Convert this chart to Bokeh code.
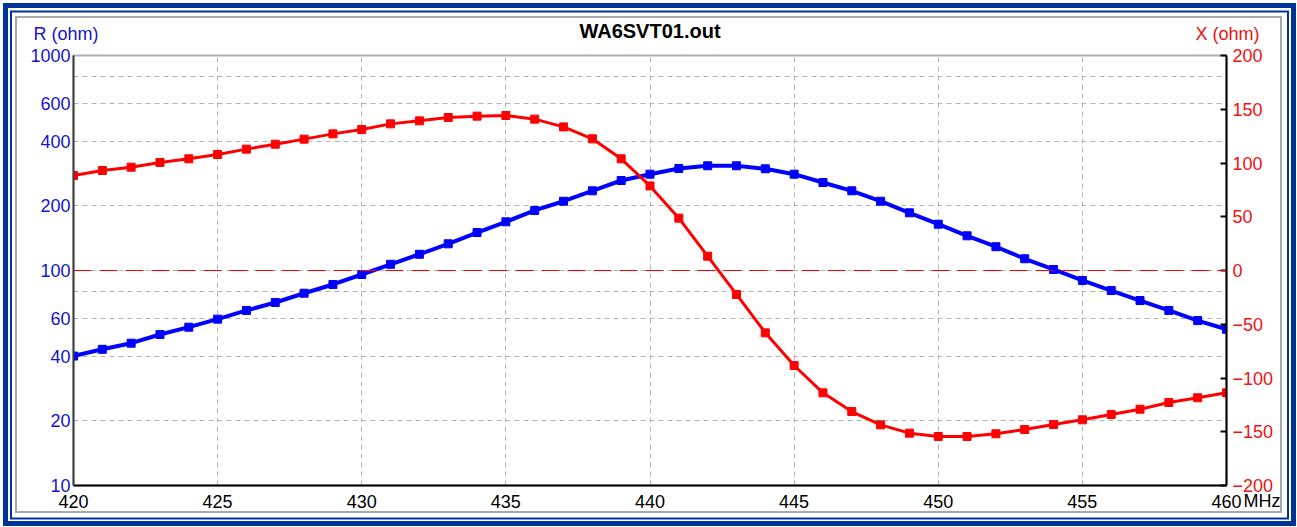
from bokeh.plotting import figure
from bokeh.models import (Range1d, LinearAxis, LinearScale, FixedTicker,
                          NumeralTickFormatter, Span, Title)
from bokeh.embed import file_html
from bokeh.resources import INLINE

# ---- data ----
freq = list(range(420, 461))
resistance = [40.0, 43.0, 45.9, 50.4, 54.5, 59.4, 65.2, 71.0, 78.4,
              86.1, 95.8, 106.9, 119.0, 133.1, 150.2, 168.4, 190.2,
              210.0, 234.8, 262.2, 280.5, 298.2, 306.9, 306.9, 297.2,
              280.5, 256.6, 234.8, 210.0, 185.5, 164.2, 145.0, 129.0,
              113.4, 101.1, 89.9, 80.7, 72.5, 65.2, 58.5, 53.3]
reactance = [88.4, 93.0, 96.1, 100.5, 103.9, 107.9, 112.9, 117.5, 122.2,
             127.1, 131.1, 136.4, 139.2, 142.3, 143.6, 144.2, 140.8,
             133.6, 122.5, 103.9, 78.7, 48.7, 13.3, -22.3, -58.0,
             -88.4, -113.8, -131.2, -143.6, -151.3, -154.4, -154.4, -151.9,
             -147.9, -143.3, -138.9, -133.9, -129.0, -122.8, -118.4, -113.8]
r_ticks = [10, 20, 40, 60, 100, 200, 400, 600, 1000]
r_grid = [20, 40, 60, 80, 100, 200, 400, 600, 800]
x_ticks = [-200, -150, -100, -50, 0, 50, 100, 150, 200]
f_ticks = [420, 425, 430, 435, 440, 445, 450, 455, 460]
f_grid = [425, 430, 435, 440, 445, 450, 455]
title_text = "WA6SVT01.out"
r_label = "R (ohm)"
x_label = "X (ohm)"
unit_label = "MHz"

FONT = "Liberation Sans"
BLUE = "#0000ff"
RED = "#ff0000"
LBLUE = "#1414cc"
LRED = "#ee1111"

p = figure(width=1297, height=527, output_backend="svg", toolbar_location=None,
           x_range=Range1d(420, 460), y_range=Range1d(10, 1000), y_axis_type="log",
           min_border_left=73, min_border_right=71, min_border_top=55, min_border_bottom=42)
p.extra_y_ranges = {"xr": Range1d(-200, 200)}
p.extra_y_scales = {"xr": LinearScale()}

p.border_fill_color = None
p.background_fill_color = "white"
p.outline_line_color = "#b0b0b0"
p.outline_line_width = 2
p.styles = {
    "background-color": "white",
    "box-shadow": ("inset 1px 1px 0 2px #ffffff, inset 1px 1px 0 7px #003399, "
                   "inset 1px 1.5px 0 9px #ffffff, inset 1px 1.5px 0 11px #003399, "
                   "inset 0 1px 0 15px #ffffff, inset 0 1px 0 17px #a8a8a8"),
}

# grids
p.xgrid.ticker = FixedTicker(ticks=f_grid)
p.ygrid.ticker = FixedTicker(ticks=r_grid)
for g in (p.xgrid, p.ygrid):
    g.grid_line_color = "#b4b4b4"
    g.grid_line_dash = "5 4"
    g.grid_line_width = 1

# left axis
ya = p.yaxis[0]
ya.ticker = FixedTicker(ticks=r_ticks)
ya.formatter = NumeralTickFormatter(format="0")
ya.major_tick_out = 0
ya.major_tick_in = 0
ya.minor_tick_out = 0
ya.minor_tick_in = 0
ya.axis_line_color = "#404040"
ya.axis_line_width = 2
ya.major_label_standoff = 3
ya.major_label_text_color = LBLUE
ya.major_label_text_font = FONT
ya.major_label_text_font_size = "18px"

# bottom axis
xa = p.xaxis[0]
xa.ticker = FixedTicker(ticks=f_ticks)
xa.major_tick_out = 0
xa.major_tick_in = 0
xa.minor_tick_out = 0
xa.minor_tick_in = 0
xa.axis_line_color = "black"
xa.axis_line_width = 2
xa.major_label_standoff = 9
xa.major_label_text_color = "black"
xa.major_label_text_font = FONT
xa.major_label_text_font_size = "18px"

# right axis
ra = LinearAxis(y_range_name="xr", ticker=FixedTicker(ticks=x_ticks))
ra.major_tick_in = 6
ra.major_tick_out = 0
ra.minor_tick_in = 0
ra.minor_tick_out = 0
ra.axis_line_color = "black"
ra.axis_line_width = 2
ra.major_tick_line_color = "black"
ra.major_tick_line_width = 2
ra.major_label_standoff = 6
ra.major_label_text_color = LRED
ra.major_label_text_font = FONT
ra.major_label_text_font_size = "18px"
p.add_layout(ra, "right")

# header texts: zero-height title rows, lifted with a negative standoff
def head_title(text, align, offset, color, size, style, standoff):
    p.add_layout(Title(text=text, align=align, offset=offset, vertical_align="top",
                       standoff=standoff, text_font=FONT, text_font_size=size,
                       text_font_style=style, text_color=color), "above")

head_title(title_text, "center", 0, "black", "20px", "bold", -71)
head_title(r_label, "left", -40, LBLUE, "18px", "normal", -63)
head_title(x_label, "right", -33, LRED, "18px", "normal", -63)

# unit caption beside the last frequency label
p.add_layout(Title(text=unit_label, align="right", vertical_align="top", offset=-54,
                   standoff=-40, text_font=FONT, text_font_size="18px",
                   text_font_style="normal", text_color="black"), "below")

# zero reactance line
p.add_layout(Span(location=0, dimension="width", y_range_name="xr",
                  line_color=RED, line_dash="18 8", line_width=1))

# series
p.line(freq, resistance, line_color=BLUE, line_width=4)
p.scatter(freq, resistance, marker="square", size=8, fill_color=BLUE, line_color=BLUE)
p.line(freq, reactance, y_range_name="xr", line_color=RED, line_width=3)
p.scatter(freq, reactance, y_range_name="xr", marker="square", size=8,
          fill_color=RED, line_color=RED)

open("out.html", "w").write(file_html(p, INLINE))
